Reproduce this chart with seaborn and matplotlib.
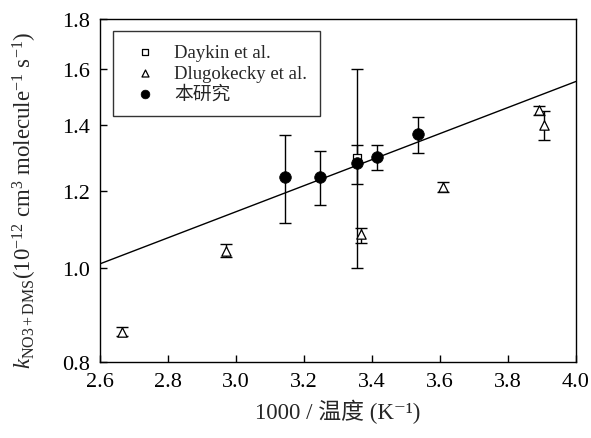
import numpy as np
import matplotlib
matplotlib.use("Agg")
import matplotlib.pyplot as plt
import seaborn as sns
from matplotlib.ticker import FormatStrFormatter, NullLocator

# this study (filled circles)
study_x = [3.144, 3.248, 3.357, 3.414, 3.534]
study_k = [1.238, 1.238, 1.280, 1.300, 1.370]
study_lo = [1.111, 1.159, 0.999, 1.259, 1.310]
study_hi = [1.368, 1.318, 1.598, 1.337, 1.429]

# Daykin et al. (open square)
daykin_x = [3.357]
daykin_k = [1.296]
daykin_lo = [1.219]
daykin_hi = [1.337]

# Dlugokecky et al. (open triangles)
dlugo_x = [2.664, 2.971, 3.368, 3.610, 3.892, 3.907]
dlugo_k = [0.859, 1.041, 1.083, 1.211, 1.451, 1.401]
dlugo_lo = [0.850, 1.025, 1.059, 1.195, 1.434, 1.352]
dlugo_hi = [0.869, 1.058, 1.098, 1.224, 1.467, 1.448]

# Arrhenius fit line endpoints
fit_x = [2.6, 4.0]
fit_k = [1.009, 1.553]

xticks = [2.6, 2.8, 3.0, 3.2, 3.4, 3.6, 3.8, 4.0]
yticks = [0.8, 1.0, 1.2, 1.4, 1.6, 1.8]

sns.set_theme(style="ticks")
plt.rcParams['font.family'] = ['Liberation Serif', 'Noto Sans CJK SC', 'DejaVu Serif']
plt.rcParams['mathtext.fontset'] = 'custom'
plt.rcParams['mathtext.rm'] = 'Liberation Serif'
plt.rcParams['mathtext.it'] = 'Liberation Serif:italic'
plt.rcParams['mathtext.bf'] = 'Liberation Serif:bold'

fig = plt.figure(figsize=(5.91, 4.39), dpi=100)
ax = fig.add_axes([0.1692, 0.1731, 0.8054, 0.7813])
ax.set_yscale('log')


def err(vals, lo, hi):
    v = np.array(vals)
    return [v - np.array(lo), np.array(hi) - v]


sns.lineplot(x=fit_x, y=fit_k, ax=ax, color='black', linewidth=1.0, zorder=2)

ax.errorbar(dlugo_x, dlugo_k, yerr=err(dlugo_k, dlugo_lo, dlugo_hi), fmt='none',
            ecolor='black', elinewidth=1.0, capsize=4, capthick=1.0, zorder=3)
ax.errorbar(daykin_x, daykin_k, yerr=err(daykin_k, daykin_lo, daykin_hi), fmt='none',
            ecolor='black', elinewidth=1.0, capsize=4, capthick=1.0, zorder=3)
ax.errorbar(study_x, study_k, yerr=err(study_k, study_lo, study_hi), fmt='none',
            ecolor='black', elinewidth=1.0, capsize=4, capthick=1.0, zorder=3)

sns.scatterplot(x=daykin_x, y=daykin_k, ax=ax, marker='s', s=40, facecolor='white',
                edgecolor='black', linewidth=0.9, label='Daykin et al.', zorder=4)
sns.scatterplot(x=dlugo_x, y=dlugo_k, ax=ax, marker='^', s=45, facecolor='white',
                edgecolor='black', linewidth=0.9, label='Dlugokecky et al.', zorder=4)
sns.scatterplot(x=study_x, y=study_k, ax=ax, marker='o', s=70, color='black',
                edgecolor='black', linewidth=0.5, label='本研究', zorder=5)

ax.set_xlim(2.6, 4.0)
ax.set_ylim(0.8, 1.8)
ax.set_xticks(xticks)
ax.set_yticks(yticks)
ax.xaxis.set_major_formatter(FormatStrFormatter('%.1f'))
ax.yaxis.set_major_formatter(FormatStrFormatter('%.1f'))
ax.yaxis.set_minor_locator(NullLocator())
ax.xaxis.set_minor_locator(NullLocator())
ax.tick_params(direction='in', length=5, width=1, labelsize=16, colors='black',
               pad=7)
for sp in ax.spines.values():
    sp.set_visible(True)
    sp.set_linewidth(1.0)
    sp.set_color('black')

ax.set_xlabel('1000 / 温度 (K⁻¹)', fontsize=16.5, labelpad=6)
ax.set_ylabel(r'$k_{\mathrm{NO3+DMS}}$(10$^{\mathrm{-12}}$ cm$^{3}$ molecule$^{\mathrm{-1}}$ s$^{\mathrm{-1}}$)',
              fontsize=16.5)
ax.yaxis.set_label_coords(-0.128, 0.473)

leg = ax.legend(loc='upper left', bbox_to_anchor=(0.027, 0.966), borderaxespad=0,
                fontsize=13.5, frameon=True, fancybox=False, edgecolor='black',
                borderpad=0.7, handlelength=2.0, handletextpad=0.55, labelspacing=0.2,
                markerscale=0.75)
leg.get_frame().set_linewidth(1.0)

fig.savefig('out.png', dpi=100)
